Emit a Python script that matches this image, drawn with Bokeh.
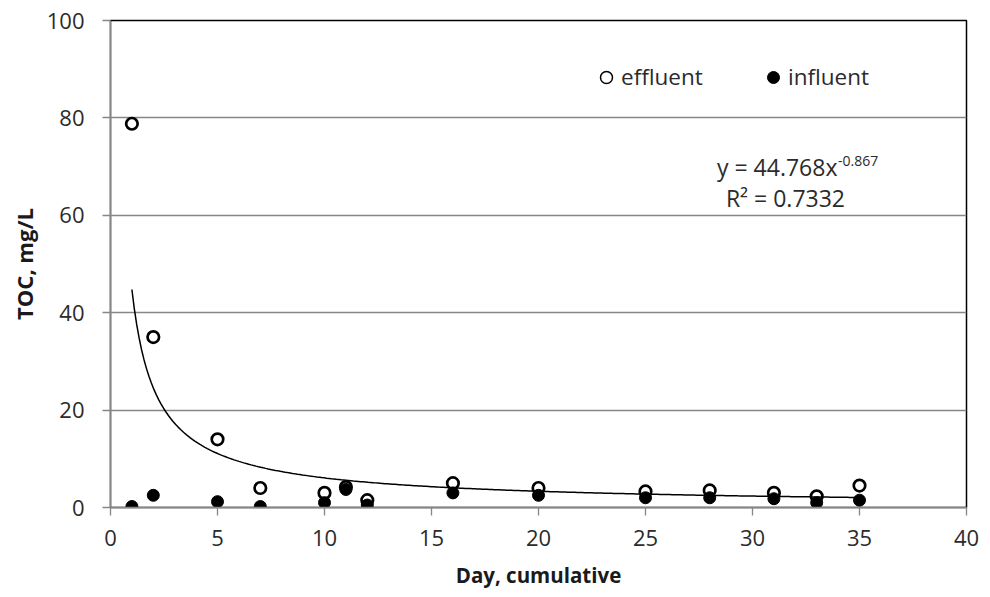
from bokeh.plotting import figure
from bokeh.models import ColumnDataSource, Legend, LegendItem, Label, FixedTicker, Range1d
from bokeh.embed import file_html
from bokeh.resources import INLINE
import numpy as np

days = [1, 2, 5, 7, 10, 11, 12, 16, 20, 25, 28, 31, 33, 35]
effluent = [78.8, 35.0, 14.0, 4.0, 3.0, 4.2, 1.5, 5.0, 4.0, 3.3, 3.5, 3.0, 2.3, 4.5]
influent = [0.2, 2.5, 1.2, 0.2, 1.0, 3.7, 0.5, 3.0, 2.5, 2.0, 2.0, 1.8, 1.0, 1.5]
fit_a = 44.768
fit_b = -0.867
fit_r2 = 0.7332
x_ticks = [0, 5, 10, 15, 20, 25, 30, 35, 40]
y_ticks = [0, 20, 40, 60, 80, 100]

FONT = "Open Sans"
GRAY = "#868686"
TXT = "#2b2b2b"

p = figure(width=990, height=597, output_backend="svg", toolbar_location=None,
           x_range=Range1d(0, 40), y_range=Range1d(0, 100),
           min_border_left=110, min_border_right=24, min_border_top=20, min_border_bottom=90)
p.outline_line_color = "black"
p.outline_line_width = 1.5

for ax in (p.xaxis[0], p.yaxis[0]):
    ax.axis_line_color = GRAY
    ax.axis_line_width = 1.3
    ax.major_tick_line_color = GRAY
    ax.major_tick_line_width = 1.3
    ax.major_tick_out = 8
    ax.major_tick_in = 0
    ax.minor_tick_line_color = None
    ax.major_label_text_font = FONT
    ax.major_label_text_font_size = "22px"
    ax.major_label_text_color = TXT
    ax.axis_label_text_font = FONT
    ax.axis_label_text_font_style = "bold"
    ax.axis_label_text_color = "#1a1a1a"

p.xaxis.ticker = FixedTicker(ticks=x_ticks)
p.yaxis.ticker = FixedTicker(ticks=y_ticks)
p.xaxis.axis_label = "Day, cumulative"
p.yaxis.axis_label = "TOC, mg/L"
p.xaxis.axis_label_text_font_size = "20.5px"
p.yaxis.axis_label_text_font_size = "22px"
p.xaxis.major_label_standoff = 14
p.yaxis.major_label_standoff = 18
p.xaxis.axis_label_standoff = 12
p.yaxis.axis_label_standoff = 5

p.xgrid.grid_line_color = None
p.ygrid.grid_line_color = GRAY
p.ygrid.grid_line_width = 1.3

# power trendline from displayed coefficients
xs = np.linspace(min(days), max(days), 300)
ys = fit_a * xs ** fit_b
p.line(xs, ys, line_color="black", line_width=1.5)

src = ColumnDataSource(dict(day=days, eff=effluent, inf=influent))
r_inf = p.scatter("day", "inf", source=src, size=12, fill_color="black", line_color="black")
r_eff = p.scatter("day", "eff", source=src, size=11.5, fill_color="white", fill_alpha=0.0,
                  line_color="black", line_width=2.7)

# legend-only renderers (thin outline like the reference key); NaN points are not drawn
key = ColumnDataSource(dict(x=[np.nan], y=[np.nan]))
k_eff = p.scatter("x", "y", source=key, fill_alpha=0.0, line_color="black", line_width=1.5)
k_inf = p.scatter("x", "y", source=key, fill_color="black", line_color="black")

common = dict(orientation="horizontal", label_text_font=FONT, label_text_font_size="22.5px",
              label_text_color=TXT, border_line_color=None, background_fill_alpha=0,
              padding=0, margin=0, glyph_width=30, glyph_height=30, label_standoff=0,
              label_height=30)
p.add_layout(Legend(items=[LegendItem(label="effluent", renderers=[k_eff], index=0)],
                    location=(481, 415), **common))
p.add_layout(Legend(items=[LegendItem(label="influent", renderers=[k_inf], index=0)],
                    location=(648, 415), **common))

p.add_layout(Label(x=33.97, y=70.0, text=f"y = {fit_a}x", text_font=FONT,
                   text_font_size="23px", text_align="right", text_baseline="middle",
                   text_color=TXT))
p.add_layout(Label(x=34.0, y=71.2, text=f"{fit_b}", text_font=FONT,
                   text_font_size="14px", text_align="left", text_baseline="middle",
                   text_color=TXT))
p.add_layout(Label(x=31.54, y=63.45, text=f"R\u00b2 = {fit_r2}", text_font=FONT,
                   text_font_size="23px", text_align="center", text_baseline="middle",
                   text_color=TXT))

open("out.html", "w").write(file_html(p, INLINE))
